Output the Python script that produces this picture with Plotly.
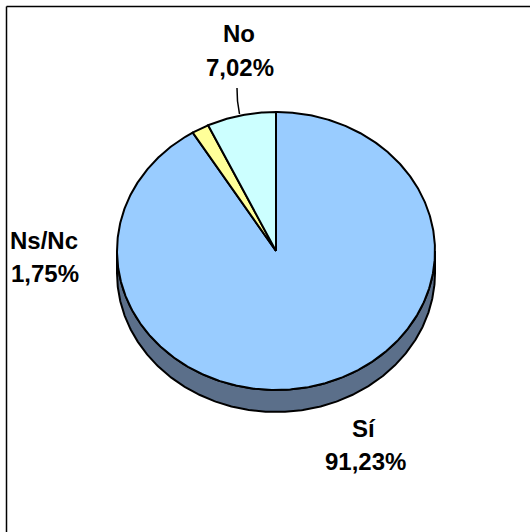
import numpy as np
import plotly.graph_objects as go

categories = ["Sí", "Ns/Nc", "No"]
values = [91.23, 1.75, 7.02]
value_labels = ["91,23%", "1,75%", "7,02%"]
slice_colors = ["#99CCFF", "#FFFF99", "#CCFFFF"]
side_color = "#5B6F8A"

CX, CY, RX, RY, DEPTH = 276, 251, 159, 139, 22


def arc(a0, a1, dy=0):
    t = np.radians(np.linspace(a0, a1, max(int(abs(a1 - a0) * 2), 3)))
    return CX + RX * np.sin(t), CY - RY * np.cos(t) + dy


fig = go.Figure()

xa, ya = arc(90, 270, 0)
xb, yb = arc(270, 90, DEPTH)
fig.add_trace(go.Scatter(x=np.r_[xa, xb, xa[0]], y=np.r_[ya, yb, ya[0]], mode="lines", fill="toself",
                         fillcolor=side_color, line=dict(color="black", width=2), hoverinfo="skip", showlegend=False))

ang = 0.0
for name, v, c in zip(categories, values, slice_colors):
    sweep = 360 * v / 100
    x, y = arc(ang, ang + sweep)
    fig.add_trace(go.Scatter(x=np.r_[CX, x, CX], y=np.r_[CY, y, CY], mode="lines", fill="toself",
                             fillcolor=c, line=dict(color="black", width=2), name=name, showlegend=False))
    ang += sweep

fig.add_trace(go.Scatter(x=[237, 237.5, 239.5], y=[88, 101, 114], mode="lines",
                         line=dict(color="black", width=1.5), hoverinfo="skip", showlegend=False))

name_xy = {"Sí": (364, 428), "Ns/Nc": (44, 240), "No": (239, 33)}
value_xy = {"Sí": (365, 461), "Ns/Nc": (45, 273), "No": (240, 67)}
anns = []
for name, lab in zip(categories, value_labels):
    for txt, (lx, ly) in ((name, name_xy[name]), (lab, value_xy[name])):
        anns.append(dict(x=lx, y=ly, xref="x", yref="y", showarrow=False, align="center",
                         text=f"<b>{txt}</b>",
                         font=dict(family="Liberation Sans", size=24, color="black")))

fig.update_layout(
    width=530, height=532, margin=dict(l=0, r=0, t=0, b=0),
    paper_bgcolor="white", plot_bgcolor="white",
    xaxis=dict(range=[0, 530], visible=False, fixedrange=True),
    yaxis=dict(range=[532, 0], visible=False, fixedrange=True),
    annotations=anns,
    shapes=[
        dict(type="line", xref="x", yref="y", x0=6.5, y0=6.5, x1=530, y1=6.5, line=dict(color="black", width=1.5), layer="below"),
        dict(type="line", xref="x", yref="y", x0=6.5, y0=6.5, x1=6.5, y1=532, line=dict(color="black", width=1.5), layer="below"),
    ],
)
fig.write_html("out.html", config={"displayModeBar": False},
               post_script="document.body.style.margin='0';")
